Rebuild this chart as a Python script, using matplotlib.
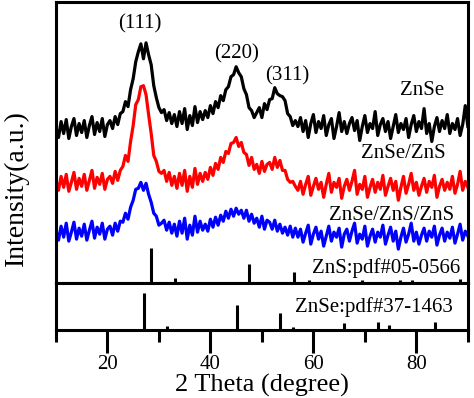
import numpy as np
import matplotlib
matplotlib.use('Agg')
import matplotlib.pyplot as plt
from matplotlib import rcParams
rcParams['font.family'] = ['Liberation Serif', 'DejaVu Serif']

# 2 theta grid, 0.5 deg steps
two_theta = np.linspace(10, 90, 161)

# ZnSe (black)
znse = [156,146,162,150,164,145,157,165,148,160,151,163,146,158,167,149,161,152,165,147,159,
        163,155,167,159,170,
        172,182,177,194,205,222,
        232,240,225,241,229,
        219,198,186,176,171,
        174,163,171,160,169,
        157,172,160,175,154,168,158,177,161,172,164,
        173,166,178,170,182,176,188,
        183,194,197,207,209,
        217,211,207,
        195,189,176,173,166,
        171,176,166,180,174,
        184,185,196,190,188,187,
        183,170,167,158,163,
        157,166,152,163,146,160,169,151,162,155,
        168,148,159,165,145,157,171,152,162,150,
        160,166,153,163,143,157,168,151,160,155,
        172,148,159,165,152,162,145,157,169,151,
        160,154,165,146,159,168,152,162,155,175,
        150,160,142,157,166,152,163,155,169,150,
        160,154,165,148,159,178,157]

# ZnSe/ZnS (red)
znse_zns = [103,93,107,96,109,92,101,111,94,105,97,109,93,103,113,95,106,99,110,94,104,
            107,100,112,103,113,
            117,128,122,142,158,179,
            184,197,198,189,169,
            150,128,122,112,110,
            113,102,111,98,107,
            95,110,98,113,92,107,96,115,99,110,102,
            111,104,116,108,120,114,126,
            121,132,130,140,141,
            146,137,141,
            131,129,118,126,114,
            119,110,122,112,119,
            121,114,126,116,123,113,
            113,104,101,102,97,
            93,102,89,99,107,88,97,105,94,101,
            86,99,110,91,101,96,105,85,97,104,
            93,102,113,89,99,94,107,86,96,104,
            91,101,94,108,88,97,105,93,102,83,
            96,107,90,99,110,93,101,88,97,105,
            91,102,96,108,86,97,104,93,101,94,
            107,90,99,112,93,102,96]

# ZnSe/ZnS/ZnS (blue)
znse_zns_zns = [53,43,57,46,60,42,51,61,44,55,47,59,43,53,62,45,56,49,60,44,54,
                57,48,60,52,62,
                61,70,64,76,83,94,
                95,101,93,100,89,
                81,70,67,58,60,
                63,53,61,50,59,
                47,62,50,65,44,58,48,67,51,62,53,
                59,52,64,56,66,58,68,
                62,72,65,74,67,
                75,69,73,
                65,73,62,69,60,
                65,56,67,54,63,
                61,54,63,52,59,50,
                56,48,57,46,55,
                46,54,41,50,58,39,49,56,44,52,
                37,47,57,42,51,46,55,36,49,54,
                42,52,60,40,49,44,57,37,47,54,
                41,51,46,58,39,48,56,42,52,34,
                46,55,41,49,60,42,51,39,48,55,
                42,52,46,57,38,48,55,42,51,45,
                56,40,49,59,43,52,47]

# standard cards
zns_pos = [28.56, 33.1, 47.5, 56.3, 59.1, 69.4, 76.8, 79.1, 88.5]
zns_int = [35, 5, 19, 11, 3, 3, 3, 3, 4]
znse_pos = [27.2, 31.5, 45.2, 53.6, 56.1, 65.9, 72.5, 74.7, 83.6]
znse_int = [37, 4, 25, 17, 3, 7, 8, 5, 8]

fig = plt.figure(figsize=(4.74, 3.98), dpi=100)
ax1 = fig.add_axes([0.118, 0.289, 0.869, 0.706])
ax2 = fig.add_axes([0.118, 0.171, 0.869, 0.118])

ax1.plot(two_theta, znse, 'k-', lw=2.3)
ax1.plot(two_theta, znse_zns, 'r-', lw=2.3)
ax1.plot(two_theta, znse_zns_zns, 'b-', lw=2.3)
ax1.vlines(zns_pos, 0, zns_int, colors='k', lw=2.2)
ax2.vlines(znse_pos, 0, znse_int, colors='k', lw=2.2)

ax1.set_xlim(10, 90)
ax1.set_ylim(0, 282)
ax2.set_xlim(10, 90)
ax2.set_ylim(0, 47)

ax1.set_xticks([])
ax1.set_yticks([])
ax2.set_yticks([])
ax2.set_xticks([20, 40, 60, 80])
ax2.set_xticks([10, 30, 50, 70, 90], minor=True)
ax2.tick_params(axis='x', which='major', direction='out', length=16.5, width=2.2,
                labelsize=15, pad=1.5)
ax2.tick_params(axis='x', which='minor', direction='out', length=8.6, width=2.2)

for ax in (ax1, ax2):
    for s in ax.spines.values():
        s.set_linewidth(2.2)

fs = 15
ax1.text(26.3, 260, '(111)', fontsize=fs, ha='center', va='center')
ax1.text(45.1, 230, '(220)', fontsize=fs, ha='center', va='center')
ax1.text(54.9, 208, '(311)', fontsize=fs, ha='center', va='center')
ax1.text(81.1, 193, 'ZnSe', fontsize=fs, ha='center', va='center')
ax1.text(77.4, 130, 'ZnSe/ZnS', fontsize=fs, ha='center', va='center')
ax1.text(75.2, 68, 'ZnSe/ZnS/ZnS', fontsize=fs, ha='center', va='center')
ax1.text(74.1, 15, 'ZnS:pdf#05-0566', fontsize=fs, ha='center', va='center')
ax2.text(71.7, 23, 'ZnSe:pdf#37-1463', fontsize=fs, ha='center', va='center')

fig.text(0.553, 0.061, '2 Theta (degree)', fontsize=19, ha='center', va='top')
fig.text(0.035, 0.528, 'Intensity(a.u.)', fontsize=20, rotation=90,
         ha='center', va='center')

fig.savefig('out.png', dpi=100)
plt.close(fig)
